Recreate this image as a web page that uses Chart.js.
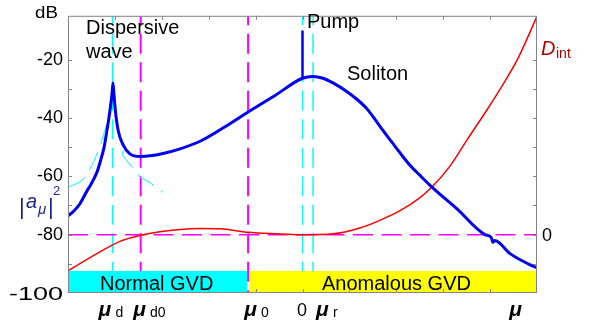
<!DOCTYPE html>
<html>
<head>
<meta charset="utf-8">
<script src="https://cdn.jsdelivr.net/npm/chart.js@4"></script>
<style>
  html, body { margin: 0; padding: 0; background: #fff; }
  canvas { display: block; }
</style>
</head>
<body>
<canvas id="chart" width="598" height="326"></canvas>
<script>
// mode number mu, pump at 0
const muRange = [-100, 100];
const dbRange = [-100, -5];

// |a_mu|^2 in dB (blue)
const spectrumMu = [-100, -97.4, -94.9, -91.9, -90.6, -87.6, -86.4, -84.6, -83.4, -82.1, -81.2, -80.8,
  -80.4, -79.9, -78.6, -76.5, -73.6, -69.3, -65, -59.5, -52.2, -43.7, -33, -23.2, -11.7, 0,
  4.5, 8.7, 13, 19, 23.2, 27.5, 30.9, 34.3, 38.2, 41.6, 45.8, 50.1, 55.2, 65.9, 77.8, 80.5, 81.2, 82,
  88.5, 95.7, 100];
const spectrumDb = [-73.6, -71.8, -69.4, -65, -63.3, -58.5, -55.4, -50, -44.3, -37.5, -31.5, -28,
  -32, -36.8, -44.3, -49.2, -52.3, -53.2, -53, -52.2, -50.6, -48, -43, -38, -32.3, -26.4,
  -25.8, -26.4, -28, -31, -33.6, -36.9, -40.5, -44.3, -48.4, -52, -56.2, -59.7, -63.7, -71.2, -80, -81, -82.6, -82,
  -86.5, -89.8, -91.4];

// pump line
const pumpMu = [0, 0];
const pumpDb = [-26.4, -10];

// integrated dispersion D_int (red), drawn on the dB scale, zero at -80
const dintMu = [-100, -86.4, -77.8, -69.3, -60.8, -52.2, -43.7, -35.2, -23.2, -11.7, 0,
  13, 24.5, 33, 41.6, 50.1, 55.2, 62.9, 70.1, 78.7, 84.2, 91.5, 100];
const dintDb = [-92.4, -85.9, -82.3, -80.3, -79, -78.2, -77.9, -78, -79.2, -79.7, -80,
  -79.7, -77.7, -75.1, -71.8, -67.3, -63.7, -56.5, -47.6, -37.2, -30.2, -20.2, -5.2];

// thin cyan envelope around the dispersive wave
const envLeftMu = [-100, -94.9, -92.3, -89.3, -86.4, -83.4, -81.5];
const envLeftDb = [-63.8, -62, -60, -55.4, -50, -42, -32];
const envRightMu = [-80, -79.1, -76.5, -72.3, -69.3, -65, -59.5];
const envRightDb = [-32, -42.3, -53, -57.3, -60.3, -62.2, -65.5];

// marked modes
const muD = -81, muD0 = -69, mu0 = -23.2, muPump = 0, muR = 4.5, muEnd = 90;
const dintZeroDb = -80;

// GVD regions
const normalGvd = [-100, -23.6];
const anomalousGvd = [-22.8, 100];
const gvdBarTop = -92.5;

// bottom tick labels
const xTickValues = [muD, muD0, mu0, muPump, muR, muEnd];
const xTickNames = ['μ', 'μ', 'μ', '0', 'μ', 'μ'];
const xTickSubs = ['d', 'd0', '0', '', 'r', ''];
const yTickLabels = [-20, -40, -60, -80, -100];

const pts = (xs, ys) => xs.map((x, i) => ({ x: x, y: ys[i] }));
const vline = v => pts([v, v], [dbRange[1], dbRange[0]]);
const hline = v => pts(muRange, [v, v]);

const fontFamily = "'Liberation Sans', Arial, sans-serif";
const dash = [20, 8.5];

function band(range, color) {
  return {
    data: pts(range, [gvdBarTop, gvdBarTop]),
    borderColor: 'rgba(0,0,0,0)',
    borderWidth: 1,
    backgroundColor: color,
    fill: { value: dbRange[0] },
    pointRadius: 0,
    tension: 0
  };
}

function dashed(data, color, width, offset) {
  return {
    data: data,
    borderColor: color,
    borderWidth: width,
    borderDash: dash,
    borderDashOffset: offset,
    pointRadius: 0,
    tension: 0,
    fill: false
  };
}

const decorations = {
  id: 'decorations',
  afterDatasetsDraw(chart) {
    const { ctx, chartArea: a, scales: { x, y } } = chart;
    ctx.save();

    // box and inward ticks
    ctx.strokeStyle = '#858585';
    ctx.lineWidth = 1;
    ctx.strokeRect(a.left + 0.5, a.top + 0.5, a.right - a.left - 1, a.bottom - a.top - 1);
    ctx.beginPath();
    x.ticks.forEach(t => {
      if (t.value <= x.min || t.value >= x.max) return;
      const px = Math.round(x.getPixelForValue(t.value)) + 0.5;
      ctx.moveTo(px, a.top); ctx.lineTo(px, a.top + 4);
      ctx.moveTo(px, a.bottom); ctx.lineTo(px, a.bottom - 4);
    });
    y.ticks.forEach(t => {
      if (t.value <= y.min || t.value >= y.max) return;
      const py = Math.round(y.getPixelForValue(t.value)) + 0.5;
      ctx.moveTo(a.left, py); ctx.lineTo(a.left + 4, py);
      ctx.moveTo(a.right, py); ctx.lineTo(a.right - 4, py);
    });
    ctx.stroke();

    const text = (s, px, py, font, color, align, sx) => {
      ctx.save();
      ctx.translate(px, py);
      ctx.scale(sx || 1, 1);
      ctx.font = font;
      ctx.fillStyle = color;
      ctx.textAlign = align || 'left';
      ctx.textBaseline = 'alphabetic';
      ctx.fillText(s, 0, 0);
      ctx.restore();
    };

    // lowest y label is drawn wider in the original
    text(String(dbRange[0]), 63, y.getPixelForValue(dbRange[0]) + 7, '18px ' + fontFamily, '#000', 'right', 1.5);

    // mode labels under the axis
    const shifts = [-7.6, -1.2, 2.4, -0.5, 9.4, 2];
    xTickValues.forEach((v, i) => {
      const cx = x.getPixelForValue(v) + shifts[i];
      if (xTickNames[i] === 'μ') {
        text('μ', cx, 316, 'bold italic 21px ' + fontFamily, '#000', 'center');
        if (xTickSubs[i]) text(xTickSubs[i], cx + 10.5, 317, '14px ' + fontFamily, '#000');
      } else {
        text(xTickNames[i], cx, 316, '18px ' + fontFamily, '#000', 'center');
      }
    });

    // annotations
    text('dB', 35, 18, '17px ' + fontFamily, '#000', 'left', 1.1);
    text('Dispersive', 86, 34, '20px ' + fontFamily, '#000');
    text('wave', 86, 58, '20px ' + fontFamily, '#000');
    text('Pump', 307, 28, '20px ' + fontFamily, '#000');
    text('Soliton', 347, 80, '20px ' + fontFamily, '#000');
    text('Normal GVD', 100, 290, '20px ' + fontFamily, '#000');
    text('Anomalous GVD', 322, 290, '20px ' + fontFamily, '#000');

    // right axis: D_int and its zero
    text('D', 541, 55, 'italic 20px ' + fontFamily, '#b00000');
    text('int', 556, 58, '14px ' + fontFamily, '#b00000');
    text('0', 542, y.getPixelForValue(dintZeroDb) + 6.5, '18px ' + fontFamily, '#000');

    // left axis name |a_mu|^2
    const navy = '#1f1f8f';
    text('|', 19, 214, '22px ' + fontFamily, navy);
    text('a', 26, 208, 'italic 20px ' + fontFamily, navy);
    text('μ', 38, 214, 'italic 15px ' + fontFamily, navy);
    text('|', 48, 214, '22px ' + fontFamily, navy);
    text('2', 53, 195, '13px ' + fontFamily, navy);

    ctx.restore();
  }
};

new Chart(document.getElementById('chart'), {
  type: 'line',
  data: {
    datasets: [
      band(normalGvd, '#00ffff'),
      band(anomalousGvd, '#ffff00'),
      {
        data: pts(pumpMu, pumpDb),
        borderColor: 'rgb(0, 0, 240)',
        borderWidth: 2.5,
        pointRadius: 0,
        tension: 0,
        fill: false
      },
      {
        data: pts(spectrumMu, spectrumDb),
        borderColor: 'rgb(0, 0, 240)',
        borderWidth: 3,
        pointRadius: 0,
        cubicInterpolationMode: 'monotone',
        fill: false
      },
      {
        data: pts(dintMu, dintDb),
        borderColor: '#ff0000',
        borderWidth: 1.5,
        pointRadius: 0,
        cubicInterpolationMode: 'monotone',
        fill: false
      },
      dashed(pts(envLeftMu, envLeftDb), '#00ffff', 1, 0),
      dashed(pts(envRightMu, envRightDb), '#00ffff', 1, 0),
      dashed(hline(dintZeroDb), '#ff00ff', 1.5, 0),
      dashed(vline(muD0), '#ff00ff', 2, 10.5),
      dashed(vline(mu0), '#ff00ff', 2, 10.5),
      dashed(vline(muD), '#00ffff', 1.5, 10.5),
      dashed(vline(muPump), '#00ffff', 1, 10.5),
      dashed(vline(muR), '#00ffff', 1.5, 10.5)
    ]
  },
  options: {
    responsive: false,
    animation: false,
    layout: { padding: { top: 3, left: 0, right: 0, bottom: 0 } },
    plugins: { legend: { display: false }, tooltip: { enabled: false } },
    scales: {
      x: {
        type: 'linear',
        min: muRange[0],
        max: muRange[1],
        grid: { display: false, drawTicks: false },
        border: { display: false },
        ticks: { display: false, stepSize: 20 },
        afterFit: s => { s.height = 33; }
      },
      y: {
        min: dbRange[0],
        max: dbRange[1],
        grid: { display: false, drawTicks: false },
        border: { display: false },
        ticks: {
          stepSize: 10,
          autoSkip: false,
          padding: 5,
          color: '#000',
          font: { family: fontFamily, size: 18 },
          callback: v => (yTickLabels.includes(v) && v !== dbRange[0]) ? String(v) : ''
        },
        afterFit: s => { s.width = 68; }
      },
      y2: {
        position: 'right',
        min: dbRange[0],
        max: dbRange[1],
        grid: { display: false, drawTicks: false },
        border: { display: false },
        ticks: { display: false, stepSize: 10 },
        afterFit: s => { s.width = 61; }
      }
    }
  },
  plugins: [decorations]
});
</script>
</body>
</html>
